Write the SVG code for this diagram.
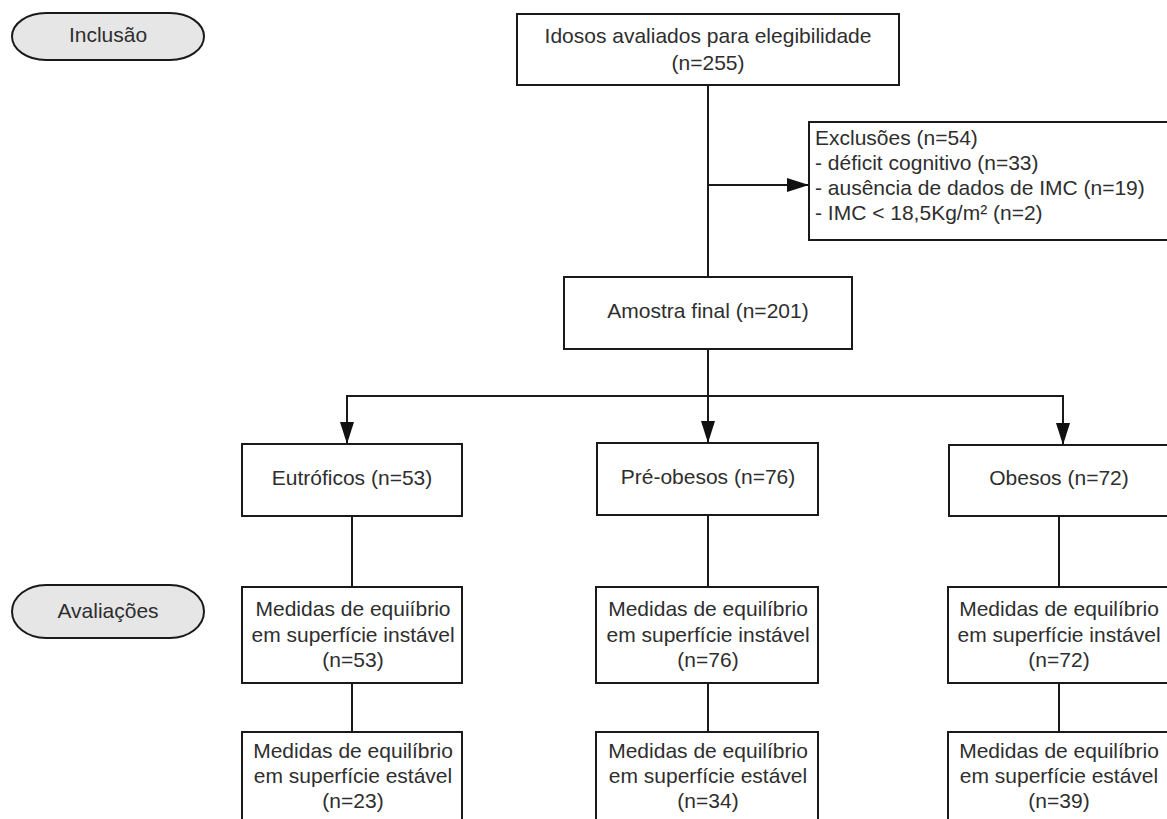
<svg xmlns="http://www.w3.org/2000/svg" width="1167" height="819" viewBox="0 0 1167 819">
<style>
.box{fill:#ffffff;stroke:#1a1a1a;stroke-width:2}
.pill{fill:#e6e6e6;stroke:#1a1a1a;stroke-width:2}
.t{font-family:"Liberation Sans",Arial,sans-serif;font-size:21px;fill:#2e2e2e}
.c{text-anchor:middle}
.ln{fill:none;stroke:#1a1a1a;stroke-width:2}
</style>
<defs>
<marker id="ah" viewBox="0 0 22 14" refX="22" refY="7" markerWidth="22" markerHeight="14" markerUnits="userSpaceOnUse" orient="auto">
<path d="M0,0 L22,7 L0,14 Z" fill="#111"/>
</marker>
</defs>
<rect width="1167" height="819" fill="#ffffff"/>

<g id="connectors">
<line class="ln" x1="708" y1="85" x2="708" y2="277"/>
<line class="ln" x1="708" y1="185" x2="809" y2="185" marker-end="url(#ah)"/>
<line class="ln" x1="708" y1="349" x2="708" y2="443" marker-end="url(#ah)"/>
<line class="ln" x1="346" y1="396" x2="1064" y2="396"/>
<line class="ln" x1="347" y1="395" x2="347" y2="444" marker-end="url(#ah)"/>
<line class="ln" x1="1063" y1="395" x2="1063" y2="445" marker-end="url(#ah)"/>
<line class="ln" x1="352" y1="516" x2="352" y2="587"/>
<line class="ln" x1="708" y1="515" x2="708" y2="587"/>
<line class="ln" x1="1059" y1="516" x2="1059" y2="587"/>
<line class="ln" x1="352" y1="683" x2="352" y2="732"/>
<line class="ln" x1="708" y1="683" x2="708" y2="732"/>
<line class="ln" x1="1059" y1="683" x2="1059" y2="732"/>
</g>

<g id="inclusao">
<rect class="pill" x="12" y="13" width="192" height="47" rx="34" ry="23.5"/>
<text class="t c" x="108" y="42">Inclusão</text>
</g>

<g id="avaliacoes">
<rect class="pill" x="12" y="585" width="192" height="53" rx="34" ry="26.5"/>
<text class="t c" x="108" y="618">Avaliações</text>
</g>

<g id="idosos">
<rect class="box" x="517" y="14" width="382" height="71"/>
<text class="t c" x="708" y="43">Idosos avaliados para elegibilidade</text>
<text class="t c" x="708" y="70">(n=255)</text>
</g>

<g id="exclusoes">
<rect class="box" x="809" y="122" width="365" height="118"/>
<text class="t" x="815" y="145">Exclusões (n=54)</text>
<text class="t" x="815" y="170">- déficit cognitivo (n=33)</text>
<text class="t" x="815" y="195">- ausência de dados de IMC (n=19)</text>
<text class="t" x="815" y="220">- IMC &lt; 18,5Kg/m² (n=2)</text>
</g>

<g id="amostra">
<rect class="box" x="564" y="277" width="288" height="72"/>
<text class="t c" x="708" y="318">Amostra final (n=201)</text>
</g>

<g id="eutroficos">
<rect class="box" x="242" y="444" width="220" height="72"/>
<text class="t c" x="352" y="485">Eutróficos (n=53)</text>
</g>

<g id="preobesos">
<rect class="box" x="597" y="443" width="221" height="72"/>
<text class="t c" x="708" y="484">Pré-obesos (n=76)</text>
</g>

<g id="obesos">
<rect class="box" x="949" y="445" width="225" height="71"/>
<text class="t c" x="1059" y="485">Obesos (n=72)</text>
</g>

<g id="eut-instavel">
<rect class="box" x="242" y="587" width="220" height="96"/>
<text class="t c" x="353" y="616">Medidas de equiíbrio</text>
<text class="t c" x="353" y="642">em superfície instável</text>
<text class="t c" x="353" y="667">(n=53)</text>
</g>

<g id="pre-instavel">
<rect class="box" x="596" y="587" width="222" height="96"/>
<text class="t c" x="708" y="616">Medidas de equilíbrio</text>
<text class="t c" x="708" y="642">em superfície instável</text>
<text class="t c" x="708" y="667">(n=76)</text>
</g>

<g id="obe-instavel">
<rect class="box" x="948" y="587" width="226" height="96"/>
<text class="t c" x="1059" y="616">Medidas de equilíbrio</text>
<text class="t c" x="1059" y="642">em superfície instável</text>
<text class="t c" x="1059" y="667">(n=72)</text>
</g>

<g id="eut-estavel">
<rect class="box" x="242" y="732" width="220" height="100"/>
<text class="t c" x="353" y="758">Medidas de equilíbrio</text>
<text class="t c" x="353" y="783">em superfície estável</text>
<text class="t c" x="353" y="808">(n=23)</text>
</g>

<g id="pre-estavel">
<rect class="box" x="596" y="732" width="222" height="100"/>
<text class="t c" x="708" y="758">Medidas de equilíbrio</text>
<text class="t c" x="708" y="783">em superfície estável</text>
<text class="t c" x="708" y="808">(n=34)</text>
</g>

<g id="obe-estavel">
<rect class="box" x="948" y="732" width="226" height="100"/>
<text class="t c" x="1059" y="758">Medidas de equilíbrio</text>
<text class="t c" x="1059" y="783">em superfície estável</text>
<text class="t c" x="1059" y="808">(n=39)</text>
</g>
</svg>
